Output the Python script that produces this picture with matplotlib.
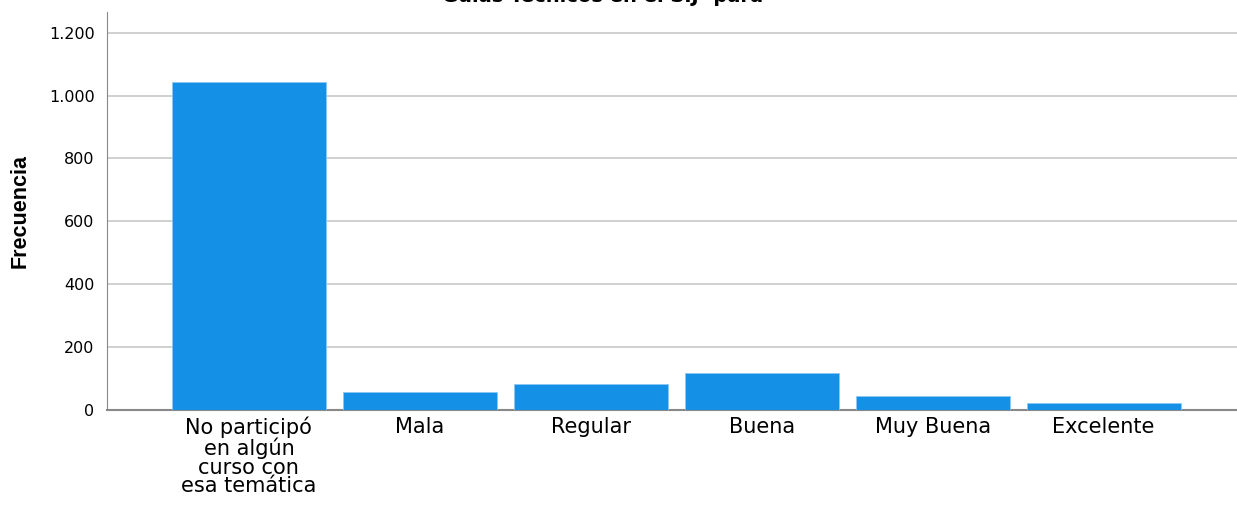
import matplotlib
matplotlib.use("Agg")
import matplotlib.pyplot as plt
from matplotlib.ticker import FuncFormatter

# data
categorias = ["No participó\nen algún\ncurso con\nesa temática", "Mala", "Regular",
              "Buena", "Muy Buena", "Excelente"]
frecuencias = [1044, 58, 84, 119, 45, 21]
y_ticks = [0, 200, 400, 600, 800, 1000, 1200]

fig = plt.figure(figsize=(12.37, 5.08), dpi=100)
ax = fig.add_axes([0.0865, 0.193, 0.9135, 0.783])

x = list(range(len(categorias)))
ax.bar(x, frecuencias, width=0.9, color="#1490e6", edgecolor="#8cc8f2", linewidth=0.6, zorder=3)

ax.set_xlim(-0.83, 5.78)
ax.set_ylim(0, 1265)
ax.set_yticks(y_ticks)
ax.yaxis.set_major_formatter(FuncFormatter(lambda v, p: "{:,.0f}".format(v).replace(",", ".")))
ax.grid(axis="y", color="#c8c8c8", linewidth=1.2, zorder=0)
ax.tick_params(axis="both", length=0)
ax.tick_params(axis="y", labelsize=11.5, pad=9)
ax.tick_params(axis="x", labelsize=15, pad=5)
ax.set_xticks(x)
ax.set_xticklabels(categorias, linespacing=0.93)

for s in ["top", "right"]:
    ax.spines[s].set_visible(False)
ax.spines["left"].set_color("#888888")
ax.spines["bottom"].set_color("#888888")
ax.spines["bottom"].set_linewidth(1.5)

ax.set_ylabel("Frecuencia", fontsize=15.5, fontweight="bold", family="Liberation Sans", labelpad=13)
# title is clipped by the top edge in the original export
fig.text(0.487, 1 - 2.5 / 508, "Guías Técnicos en el SIJ- para", ha="center", va="baseline",
         fontsize=14, fontweight="bold", family="DejaVu Sans")

fig.savefig("out.png", dpi=100)
